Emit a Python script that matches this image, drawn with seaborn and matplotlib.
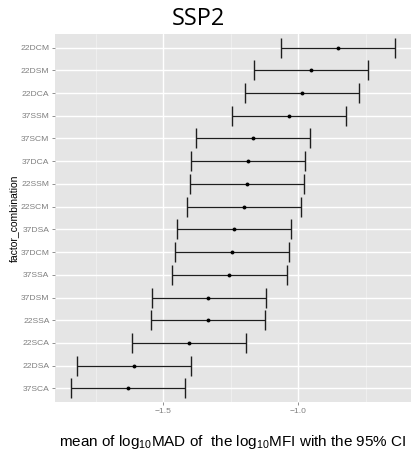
import numpy as np
import pandas as pd
import seaborn as sns
import matplotlib
matplotlib.use("Agg")
import matplotlib.pyplot as plt
from matplotlib.ticker import MultipleLocator, FixedLocator

categories = ["22DCM", "22DSM", "22DCA", "37SSM", "37SCM", "37DCA", "22SSM", "22SCM",
              "37DSA", "37DCM", "37SSA", "37DSM", "22SSA", "22SCA", "22DSA", "37SCA"]
mean_vals = [-0.853, -0.954, -0.988, -1.036, -1.169, -1.185, -1.190, -1.202,
             -1.239, -1.246, -1.257, -1.333, -1.336, -1.406, -1.608, -1.630]
lower_ci = [-1.065, -1.164, -1.198, -1.247, -1.380, -1.396, -1.400, -1.412,
            -1.450, -1.457, -1.467, -1.543, -1.546, -1.617, -1.820, -1.842]
upper_ci = [-0.641, -0.742, -0.775, -0.823, -0.958, -0.974, -0.978, -0.990,
            -1.027, -1.033, -1.043, -1.121, -1.123, -1.195, -1.396, -1.419]
x_ticks = [-1.5, -1.0]
x_tick_labels = ["\u22121.5", "\u22121.0"]

df = pd.DataFrame({"factor_combination": categories, "mean": mean_vals,
                   "lo": lower_ci, "hi": upper_ci})

sns.set_theme(style="darkgrid")
plt.rcParams["font.family"] = ["Liberation Sans", "DejaVu Sans"]
plt.rcParams["mathtext.fontset"] = "custom"
plt.rcParams["mathtext.rm"] = "Liberation Sans"
plt.rcParams["mathtext.it"] = "Liberation Sans:italic"

W, H = 417, 450
fig = plt.figure(figsize=(W / 100, H / 100), dpi=100)
fig.patch.set_facecolor("white")
ax = fig.add_axes([55 / W, 1 - 402 / H, (411 - 55) / W, (402 - 34) / H])
ax.set_facecolor("#E5E5E5")

sns.stripplot(data=df, x="mean", y="factor_combination", order=categories,
              jitter=False, color="black", size=2.8, linewidth=0, ax=ax, zorder=4)

ypos = np.arange(len(categories))
ax.errorbar(df["mean"], ypos,
            xerr=[df["mean"] - df["lo"], df["hi"] - df["mean"]],
            fmt="none", ecolor="#1e1e1e", elinewidth=0.9, capsize=7.4,
            capthick=1.0, zorder=3)

ax.set_xlim(-1.901, -0.583)
ax.set_ylim(len(categories) - 1 + 0.6, -0.6)

ax.xaxis.set_major_locator(FixedLocator(x_ticks))
ax.set_xticklabels(x_tick_labels)
ax.xaxis.set_minor_locator(FixedLocator([-1.75, -1.25, -0.75]))

ax.grid(which="major", color="white", linewidth=1.0)
ax.grid(which="minor", axis="x", color="#F2F2F2", linewidth=0.5)
ax.set_axisbelow(True)
for s in ax.spines.values():
    s.set_visible(False)

ax.tick_params(axis="both", which="major", length=2.5, width=0.6, color="#7F7F7F",
               labelcolor="#7F7F7F", labelsize=6.1, pad=1.5, bottom=True, left=True)
ax.tick_params(axis="x", which="minor", length=0)

ax.set_xlabel(r"mean of log$_{\mathrm{10}}$MAD of  the log$_{\mathrm{10}}$MFI with the 95% CI",
              fontsize=11, color="black")
ax.xaxis.set_label_coords(0.5, -0.085)
ax.set_ylabel("factor_combination", fontsize=7.5, color="black")
ax.yaxis.set_label_coords(-0.10, 0.5)

fig.text(198 / W, 1 - 19 / H, "SSP2", ha="center", va="center",
         fontsize=17, family=["Open Sans", "DejaVu Sans"], color="black")

fig.savefig("out.png", dpi=100, facecolor="white")
